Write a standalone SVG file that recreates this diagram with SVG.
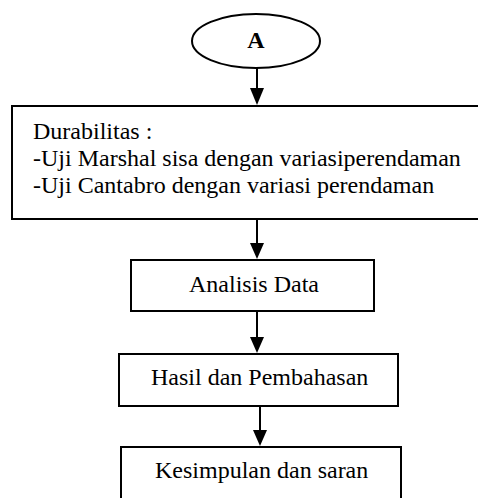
<svg xmlns="http://www.w3.org/2000/svg" width="478" height="498" viewBox="0 0 478 498">
<defs>
<style>
.b{fill:#fff;stroke:#000;stroke-width:2}
.t{font-family:"Liberation Serif","Times New Roman",serif;font-size:24px;fill:#000}
.c{stroke:#000;stroke-width:2;fill:none}
.h{fill:#000}
</style>
</defs>
<rect width="478" height="498" fill="#fff"/>
<g id="connectors">
<path d="M257,68 V88" class="c"/><path d="M250,88 H264 L257,105 Z" class="h"/>
<path d="M257,219 V243" class="c"/><path d="M250,243 H264 L257,259 Z" class="h"/>
<path d="M257,311 V337" class="c"/><path d="M250,337 H264 L257,353 Z" class="h"/>
<path d="M260,406 V430" class="c"/><path d="M253,430 H267 L260,446 Z" class="h"/>
</g>
<g id="nodeA">
<ellipse cx="256" cy="41" rx="64" ry="27" class="b"/>
<text x="256" y="48" class="t" text-anchor="middle" font-weight="bold" font-size="22">A</text>
</g>
<g id="durabilitas">
<rect x="12" y="106" width="470" height="113" class="b"/>
<text x="33" y="139" class="t">Durabilitas :</text>
<text x="33" y="166" class="t">-Uji Marshal sisa dengan variasiperendaman</text>
<text x="33" y="193" class="t">-Uji Cantabro dengan variasi perendaman</text>
</g>
<g id="analisis">
<rect x="131" y="260" width="243" height="51" class="b"/>
<text x="189" y="292" class="t">Analisis Data</text>
</g>
<g id="hasil">
<rect x="119" y="354" width="279" height="52" class="b"/>
<text x="151" y="385" class="t">Hasil dan Pembahasan</text>
</g>
<g id="kesimpulan">
<rect x="121" y="447" width="280" height="60" class="b"/>
<text x="155" y="478" class="t">Kesimpulan dan saran</text>
</g>
</svg>
